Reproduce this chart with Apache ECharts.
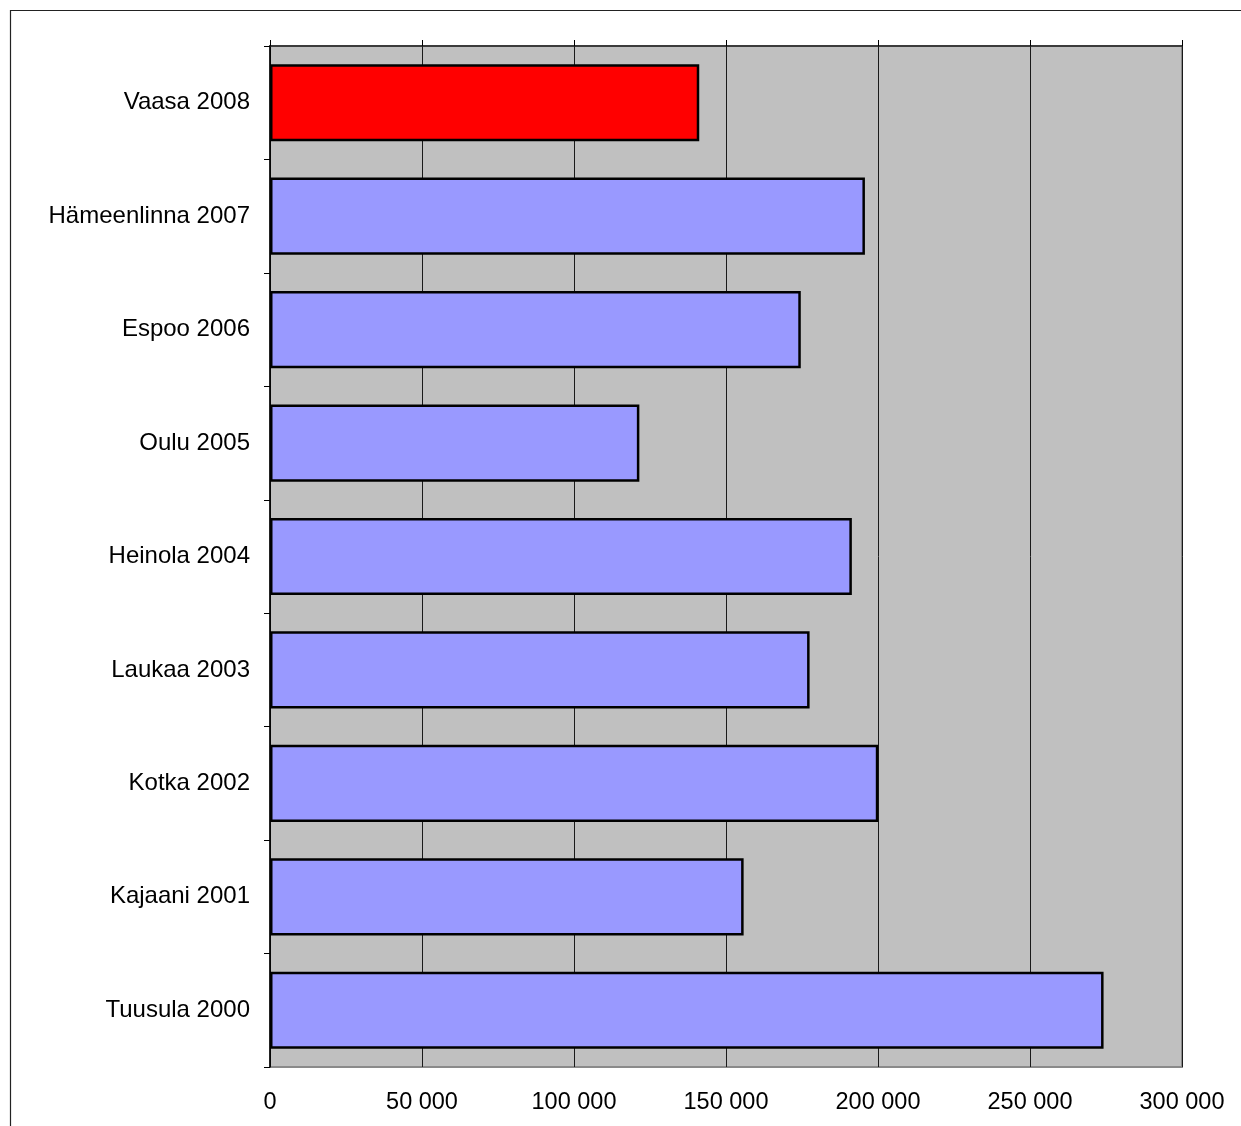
<!DOCTYPE html>
<html>
<head>
<meta charset="utf-8">
<script src="https://cdn.jsdelivr.net/npm/echarts@6/dist/echarts.min.js"></script>
<style>
  html, body { margin: 0; padding: 0; background: #fff; }
  #chart { width: 1241px; height: 1126px; }
</style>
</head>
<body>
<div id="chart"></div>
<script>
// Host towns by year, top to bottom
const categories = [
  'Vaasa 2008', 'Hämeenlinna 2007', 'Espoo 2006', 'Oulu 2005', 'Heinola 2004',
  'Laukaa 2003', 'Kotka 2002', 'Kajaani 2001', 'Tuusula 2000'
];
const values = [141200, 195700, 174600, 121500, 191400, 177500, 200100, 155800, 274200];
const highlighted = 'Vaasa 2008';
const xTicks = [0, 50000, 100000, 150000, 200000, 250000, 300000];

const FONT = '"Liberation Sans", Arial, sans-serif';
const fmt = v => String(v).replace(/\B(?=(\d{3})+(?!\d))/g, ' ');

const chart = echarts.init(document.getElementById('chart'), null, { renderer: 'canvas' });

chart.setOption({
  animation: false,
  backgroundColor: '#ffffff',
  graphic: [{
    type: 'rect',
    silent: true,
    shape: { x: 10.5, y: 10.5, width: 1240, height: 1200 },
    style: { fill: 'none', stroke: '#222', lineWidth: 1.2 }
  }],
  grid: {
    left: 270, right: 59, top: 46, bottom: 59,
    show: true,
    backgroundColor: '#C0C0C0',
    borderColor: '#8a8a8a',
    borderWidth: 2
  },
  xAxis: [{
    type: 'value',
    position: 'bottom',
    min: xTicks[0],
    max: xTicks[xTicks.length - 1],
    interval: xTicks[1] - xTicks[0],
    axisLine: { show: false },
    axisTick: { show: false },
    axisLabel: {
      margin: 24,
      color: '#000',
      fontFamily: FONT,
      fontSize: 23.5,
      formatter: fmt
    },
    splitLine: { show: true, lineStyle: { color: '#1a1a1a', width: 1 } }
  }, {
    type: 'value',
    position: 'top',
    min: xTicks[0],
    max: xTicks[xTicks.length - 1],
    interval: xTicks[1] - xTicks[0],
    axisLine: { show: true, lineStyle: { color: '#222', width: 1.5 } },
    axisTick: { show: true, length: 6, lineStyle: { color: '#000', width: 1 } },
    axisLabel: { show: false },
    splitLine: { show: false }
  }],
  yAxis: {
    type: 'category',
    data: categories,
    inverse: true,
    axisLine: { show: true, lineStyle: { color: '#000', width: 1.5 } },
    axisTick: { show: true, length: 6, lineStyle: { color: '#000', width: 1 } },
    axisLabel: {
      margin: 20,
      color: '#000',
      fontFamily: FONT,
      fontSize: 24,
      padding: [4, 0, 0, 0]
    }
  },
  series: [{
    type: 'bar',
    xAxisIndex: 0,
    barCategoryGap: '32%',
    data: values.map((v, i) => ({
      value: v,
      itemStyle: categories[i] === highlighted ? { color: '#FF0000' } : undefined
    })),
    itemStyle: {
      color: '#9999FF',
      borderColor: '#000',
      borderWidth: 2.5
    }
  }]
});
</script>
</body>
</html>
